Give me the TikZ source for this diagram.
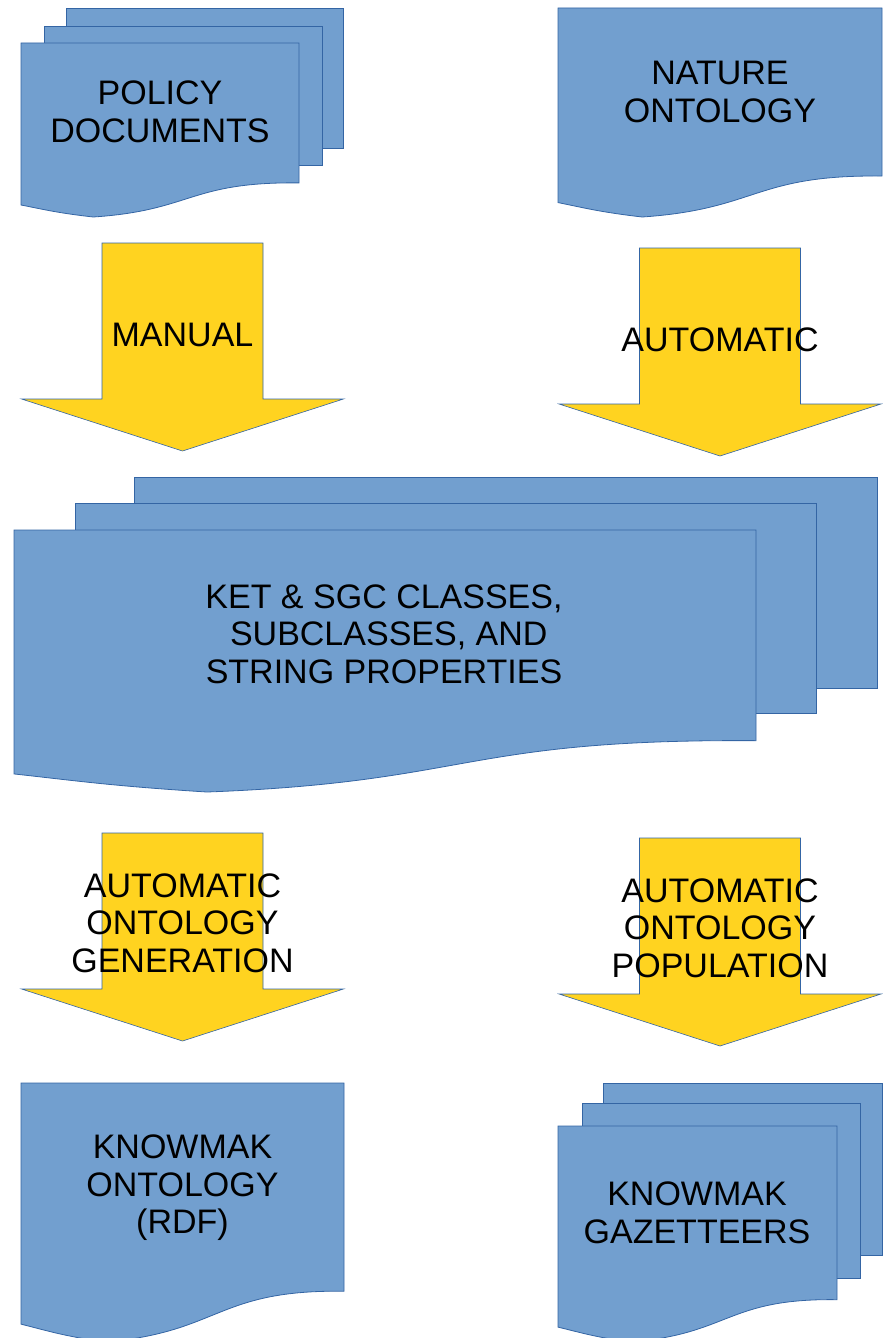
\documentclass[tikz,border=0pt]{standalone}
\usepackage{fontspec}
\setmainfont{Liberation Sans}
\usepackage{tikz}
\usetikzlibrary{positioning}
\usepackage{xcolor}
\definecolor{docblue}{HTML}{729FCF}
\definecolor{docedge}{HTML}{3465A4}
\definecolor{flowyellow}{HTML}{FFD320}

% page with a wavy lower edge: top left corner (#1,#2), width #3, height #4
\newcommand{\docpage}[4]{%
  \begin{scope}[shift={(#1,#2)},x=#3pt,y=-#4pt]
    \filldraw[page] (0,0) -- (1,0) -- (1,0.804)
      .. controls (0.604,0.797) and (0.618,0.962) .. (0.26,1)
      .. controls (0.132,0.977) and (0.086,0.958) .. (0,0.931) -- cycle;
  \end{scope}}
% thick block arrow pointing down: centre #1, top #2
\newcommand{\flowarrow}[2]{%
  \filldraw[block] (#1-80.5,#2) -- (#1+80.5,#2) -- (#1+80.5,#2+156)
    -- (#1+161,#2+156) -- (#1,#2+208) -- (#1-161,#2+156)
    -- (#1-80.5,#2+156) -- cycle;}

\begin{document}
\begin{tikzpicture}[x=1pt,y=-1pt,
    page/.style={fill=docblue,draw=docedge,line width=0.8pt},
    block/.style={fill=flowyellow,draw=docedge,line width=0.6pt},
    boxtext/.style={align=center,inner sep=0pt,font=\fontsize{34}{37.5}\selectfont}]
    \useasboundingbox (0,0) rectangle (886,1338);
    % Sources
    \filldraw[page] (66,8) rectangle (343,148);
    \filldraw[page] (44,26) rectangle (322,165);
    \docpage{21}{43}{278}{174}
    \docpage{558}{8}{324}{209}
    \node[boxtext] (policy) at (160,112) {POLICY\\DOCUMENTS};
    \node[boxtext] (nature) at (720,92) {NATURE\\ONTOLOGY};

    % Extraction
    \flowarrow{182.5}{243}
    \flowarrow{720}{248}
    \node[boxtext] (manual) at (182.5,335) {MANUAL};
    \node[boxtext] (automatic) at (720,340) {AUTOMATIC};

    % Class hierarchy
    \filldraw[page] (134,477) rectangle (877,688);
    \filldraw[page] (75,503) rectangle (816,713);
    \docpage{14}{530}{742}{262}
    \node[boxtext] (classes) at (384,634)
        {KET \& SGC CLASSES,\\\hspace*{0.28em}SUBCLASSES, AND\\STRING PROPERTIES};

    % Generation and population
    \flowarrow{182.5}{833}
    \flowarrow{720}{838}
    \node[boxtext] (generation) at (182.5,923) {AUTOMATIC\\ONTOLOGY\\GENERATION};
    \node[boxtext] (population) at (720,928) {AUTOMATIC\\ONTOLOGY\\POPULATION};

    % Results
    \docpage{21}{1083}{323}{259}
    \filldraw[page] (603,1083) rectangle (882,1255);
    \filldraw[page] (582,1103) rectangle (860,1278);
    \docpage{558}{1126}{279}{216}
    \node[boxtext] (rdf) at (182.5,1188) {KNOWMAK\\ONTOLOGY\\(RDF)};
    \node[boxtext] (gazetteers) at (697,1213) {KNOWMAK\\GAZETTEERS};
\end{tikzpicture}
\end{document}
